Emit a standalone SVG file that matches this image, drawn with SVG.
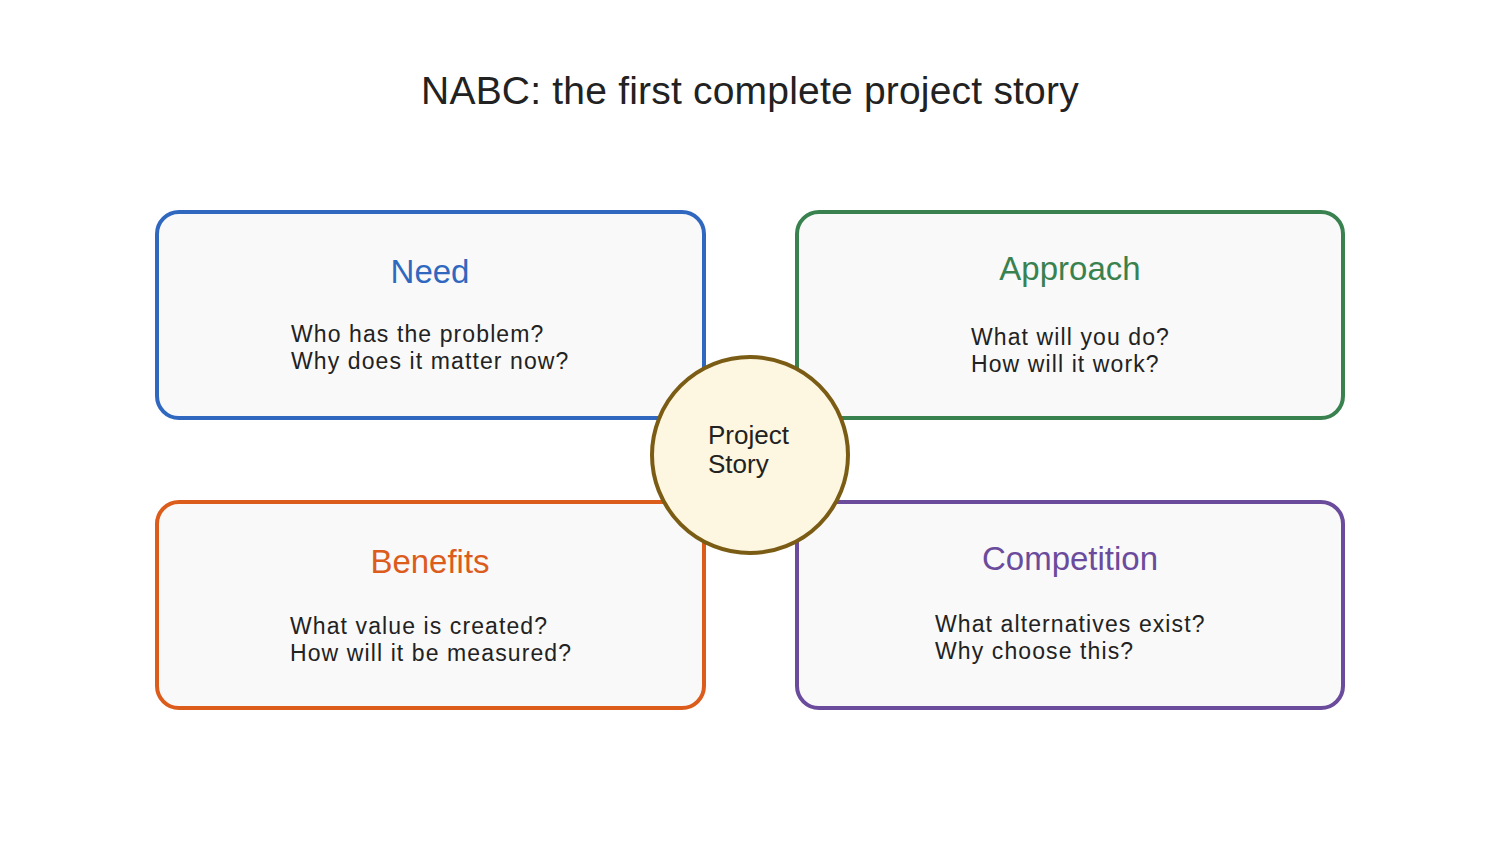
<svg xmlns="http://www.w3.org/2000/svg" width="1500" height="850" viewBox="0 0 1500 850">
<style>
text{font-family:"Liberation Sans",Arial,sans-serif;fill:#222}
.box{fill:#f9f9f9;stroke-width:4}
.t{font-size:33px;text-anchor:middle}
.b{font-size:23px;letter-spacing:1.1px}
</style>
<rect width="1500" height="850" fill="#fff"/>
<text x="750" y="104" font-size="39" text-anchor="middle" letter-spacing="0.2">NABC: the first complete project story</text>
<g id="need"><rect class="box" x="157" y="212" width="547" height="206" rx="22" stroke="#3068c0"/>
<text class="t" x="430" y="283" style="fill:#3068c0">Need</text>
<text class="b" x="291" y="342">Who has the problem?</text><text class="b" x="291" y="369">Why does it matter now?</text></g>
<g id="approach"><rect class="box" x="797" y="212" width="546" height="206" rx="22" stroke="#3a8150"/>
<text class="t" x="1070" y="280" style="fill:#3a8150">Approach</text>
<text class="b" x="971" y="345">What will you do?</text><text class="b" x="971" y="372">How will it work?</text></g>
<g id="benefits"><rect class="box" x="157" y="502" width="547" height="206" rx="22" stroke="#dc5c1c"/>
<text class="t" x="430" y="573" style="fill:#dc5c1c">Benefits</text>
<text class="b" x="290" y="634">What value is created?</text><text class="b" x="290" y="661">How will it be measured?</text></g>
<g id="competition"><rect class="box" x="797" y="502" width="546" height="206" rx="22" stroke="#6a4b9c"/>
<text class="t" x="1070" y="570" style="fill:#6a4b9c">Competition</text>
<text class="b" x="935" y="632">What alternatives exist?</text><text class="b" x="935" y="659">Why choose this?</text></g>
<g id="story"><circle cx="750" cy="455" r="98" fill="#fdf6e0" stroke="#7a5c14" stroke-width="4"/>
<text x="708" y="444" font-size="26">Project</text><text x="708" y="473" font-size="26">Story</text></g>
<g id="connectors"></g>
</svg>
